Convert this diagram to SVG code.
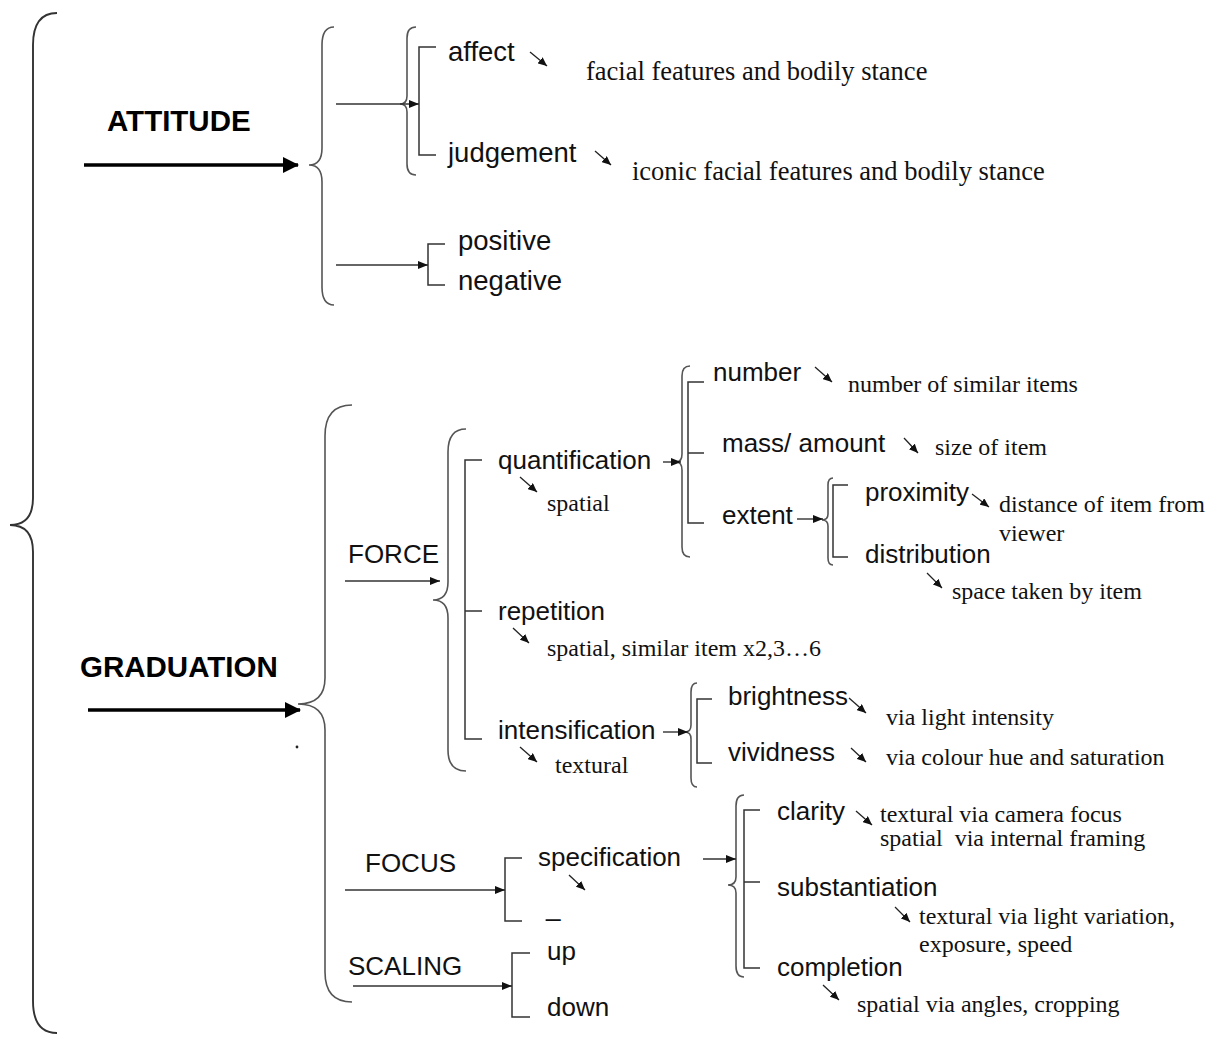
<svg xmlns="http://www.w3.org/2000/svg" width="1218" height="1037" viewBox="0 0 1218 1037">
  <style>
    .sans { font-family: "Liberation Sans", Arial, sans-serif; fill: #111; }
    .lbl { font-size: 26px; }
    .lblTop { font-size: 27.5px; }
    .bold { font-family: "Liberation Sans", Arial, sans-serif; font-weight: bold; font-size: 29.5px; fill: #000; }
    .serif { font-family: "Liberation Serif", "Times New Roman", serif; fill: #111; font-size: 24px; }
    .serifBig { font-size: 26.5px; }
    .brace { fill: none; stroke: #555; stroke-width: 1.6; }
    .outer { stroke: #333; stroke-width: 1.9; }
    .bracket { fill: none; stroke: #333; stroke-width: 1.5; }
    .link { fill: none; stroke: #333; stroke-width: 1.4; marker-end: url(#head); }
    .thick { fill: none; stroke: #000; stroke-width: 3.5; marker-end: url(#headBig); }
    .diag { fill: none; stroke: #222; stroke-width: 1.3; marker-end: url(#headDiag); }
  </style>
  <defs>
    <marker id="head" viewBox="0 0 10 8" refX="10" refY="4" markerWidth="10" markerHeight="8" markerUnits="userSpaceOnUse" orient="auto">
      <path d="M0,0 L10,4 L0,8 z" fill="#111"/>
    </marker>
    <marker id="headBig" viewBox="0 0 16 16" refX="15" refY="8" markerWidth="16" markerHeight="16" markerUnits="userSpaceOnUse" orient="auto">
      <path d="M0,0 L16,8 L0,16 z" fill="#000"/>
    </marker>
    <marker id="headDiag" viewBox="0 0 9 8" refX="9" refY="4" markerWidth="9" markerHeight="8" markerUnits="userSpaceOnUse" orient="auto">
      <path d="M0,0 L9,4 L0,8 z" fill="#111"/>
    </marker>
  </defs>

  <!-- braces and brackets -->
  <g id="braces">
    <path class="brace outer" d="M57,13 Q33,13 33,45 L33,498 Q33,525 10,525 Q33,525 33,552 L33,1001 Q33,1033 57,1033"/>
    <path class="brace" d="M334,27 Q322,27 322,45 L322,148 Q322,165 309,165 Q322,165 322,182 L322,287 Q322,305 334,305"/>
    <path class="brace" d="M416,27 Q407,27 407,38 L407,96 Q407,104 400,104 Q407,104 407,112 L407,164 Q407,175 416,175"/>
    <path class="bracket" d="M436,47 L419,47 L419,155 L436,155"/>
    <path class="bracket" d="M445,244 L428,244 L428,285 L445,285"/>

    <path class="brace" d="M352,405 Q325,405 325,436 L325,678 Q325,704 298,704 Q325,704 325,730 L325,972 Q325,1002 352,1002"/>
    <path class="brace" d="M466,429 Q448,429 448,452 L448,582 Q448,600 433,600 Q448,600 448,618 L448,750 Q448,771 466,771"/>
    <path class="bracket" d="M482,460 L465,460 L465,739 L482,739 M465,611 L482,611"/>

    <path class="brace" d="M690,366 Q682,366 682,376 L682,454 Q682,462 676,462 Q682,462 682,470 L682,547 Q682,557 690,557"/>
    <path class="bracket" d="M704,382 L688,382 L688,523 L704,523 M688,453 L704,453"/>

    <path class="brace" d="M833,478 Q828,478 828,485 L828,514 Q828,520 822,520 Q828,520 828,526 L828,558 Q828,565 833,565"/>
    <path class="bracket" d="M848,485 L833,485 L833,557 L848,557"/>

    <path class="brace" d="M697,683 Q691,683 691,692 L691,725 Q691,732 685,732 Q691,732 691,739 L691,778 Q691,787 697,787"/>
    <path class="bracket" d="M712,699 L697,699 L697,763 L712,763"/>

    <path class="bracket" d="M522,858 L505,858 L505,921 L522,921"/>
    <path class="brace" d="M744,795 Q736,795 736,806 L736,877 Q736,885 728,885 Q736,885 736,893 L736,966 Q736,977 744,977"/>
    <path class="bracket" d="M760,810 L744,810 L744,968 L760,968 M744,882 L760,882"/>

    <path class="bracket" d="M530,953 L512,953 L512,1017 L530,1017"/>
  </g>

  <!-- connectors -->
  <g id="connectors">
    <line class="thick" x1="84" y1="165" x2="298" y2="165"/>
    <line class="thick" x1="88" y1="710" x2="300" y2="710"/>
    <line class="link" x1="336" y1="104" x2="419" y2="104"/>
    <line class="link" x1="336" y1="265" x2="428" y2="265"/>
    <line class="link" x1="345" y1="581" x2="440" y2="581"/>
    <line class="link" x1="663" y1="462" x2="681" y2="462"/>
    <line class="link" x1="797" y1="519" x2="823" y2="519"/>
    <line class="link" x1="663" y1="732" x2="688" y2="732"/>
    <line class="link" x1="345" y1="890" x2="505" y2="890"/>
    <line class="link" x1="703" y1="859" x2="736" y2="859"/>
    <line class="link" x1="353" y1="986" x2="512" y2="986"/>

    <line class="diag" x1="530" y1="52" x2="547" y2="66"/>
    <line class="diag" x1="595" y1="151" x2="611" y2="165"/>
    <line class="diag" x1="815" y1="367" x2="832" y2="382"/>
    <line class="diag" x1="904" y1="438" x2="918" y2="453"/>
    <line class="diag" x1="972" y1="494" x2="989" y2="507"/>
    <line class="diag" x1="927" y1="573" x2="942" y2="588"/>
    <line class="diag" x1="520" y1="477" x2="537" y2="492"/>
    <line class="diag" x1="513" y1="628" x2="529" y2="643"/>
    <line class="diag" x1="520" y1="747" x2="537" y2="762"/>
    <line class="diag" x1="849" y1="698" x2="866" y2="713"/>
    <line class="diag" x1="851" y1="748" x2="866" y2="762"/>
    <line class="diag" x1="569" y1="875" x2="585" y2="890"/>
    <line class="diag" x1="856" y1="811" x2="872" y2="825"/>
    <line class="diag" x1="895" y1="907" x2="910" y2="922"/>
    <line class="diag" x1="823" y1="985" x2="839" y2="1000"/>
    <circle cx="297" cy="747" r="1.4" fill="#222"/>
  </g>

  <!-- ATTITUDE branch -->
  <g id="attitude"><text class="bold" x="107" y="131">ATTITUDE</text></g>
  <g id="affect">
    <text class="sans lblTop" x="448" y="61">affect</text>
    <text class="serif serifBig" x="586" y="80">facial features and bodily stance</text>
  </g>
  <g id="judgement">
    <text class="sans lblTop" x="448" y="162">judgement</text>
    <text class="serif serifBig" x="632" y="180">iconic facial features and bodily stance</text>
  </g>
  <g id="positive"><text class="sans lblTop" x="458" y="250">positive</text></g>
  <g id="negative"><text class="sans lblTop" x="458" y="290">negative</text></g>

  <!-- GRADUATION branch -->
  <g id="graduation"><text class="bold" x="80" y="677">GRADUATION</text></g>
  <g id="force"><text class="sans lbl" x="348" y="563">FORCE</text></g>
  <g id="quantification">
    <text class="sans lbl" x="498" y="469">quantification</text>
    <text class="serif" x="547" y="511">spatial</text>
  </g>
  <g id="number">
    <text class="sans lbl" x="713" y="381">number</text>
    <text class="serif" x="848" y="392">number of similar items</text>
  </g>
  <g id="mass-amount">
    <text class="sans lbl" x="722" y="452">mass/ amount</text>
    <text class="serif" x="935" y="455">size of item</text>
  </g>
  <g id="extent"><text class="sans lbl" x="722" y="524">extent</text></g>
  <g id="proximity">
    <text class="sans lbl" x="865" y="501">proximity</text>
    <text class="serif" x="999" y="512">distance of item from</text>
    <text class="serif" x="999" y="541">viewer</text>
  </g>
  <g id="distribution">
    <text class="sans lbl" x="865" y="563">distribution</text>
    <text class="serif" x="952" y="599">space taken by item</text>
  </g>
  <g id="repetition">
    <text class="sans lbl" x="498" y="620">repetition</text>
    <text class="serif" x="547" y="656">spatial, similar item x2,3…6</text>
  </g>
  <g id="intensification">
    <text class="sans lbl" x="498" y="739">intensification</text>
    <text class="serif" x="555" y="773">textural</text>
  </g>
  <g id="brightness">
    <text class="sans lbl" x="728" y="705">brightness</text>
    <text class="serif" x="886" y="725">via light intensity</text>
  </g>
  <g id="vividness">
    <text class="sans lbl" x="728" y="761">vividness</text>
    <text class="serif" x="886" y="765">via colour hue and saturation</text>
  </g>

  <g id="focus"><text class="sans lbl" x="365" y="872">FOCUS</text></g>
  <g id="specification"><text class="sans lbl" x="538" y="866">specification</text></g>
  <g id="blank-option"><text class="sans lbl" x="546" y="916">_</text></g>
  <g id="clarity">
    <text class="sans lbl" x="777" y="820">clarity</text>
    <text class="serif" x="880" y="822">textural via camera focus</text>
    <text class="serif" x="880" y="846" xml:space="preserve">spatial  via internal framing</text>
  </g>
  <g id="substantiation">
    <text class="sans lbl" x="777" y="896">substantiation</text>
    <text class="serif" x="919" y="924">textural via light variation,</text>
    <text class="serif" x="919" y="952">exposure, speed</text>
  </g>
  <g id="completion">
    <text class="sans lbl" x="777" y="976">completion</text>
    <text class="serif" x="857" y="1012">spatial via angles, cropping</text>
  </g>

  <g id="scaling"><text class="sans lbl" x="348" y="975">SCALING</text></g>
  <g id="up"><text class="sans lbl" x="547" y="960">up</text></g>
  <g id="down"><text class="sans lbl" x="547" y="1016">down</text></g>
</svg>
